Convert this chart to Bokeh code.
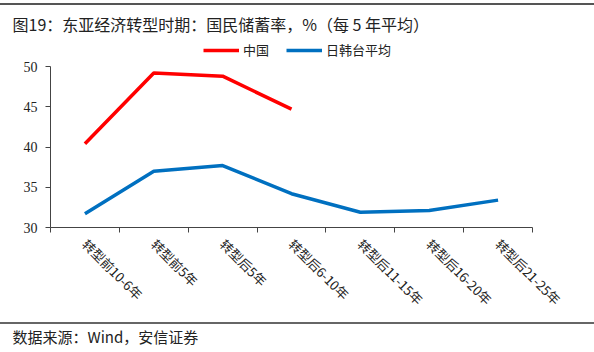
from bokeh.plotting import figure
from bokeh.models import Range1d, FixedTicker, Legend, LegendItem, Title, InlineStyleSheet
from bokeh.embed import file_html
from bokeh.resources import INLINE

categories = ["转型前10-6年", "转型前5年", "转型后5年", "转型后6-10年",
              "转型后11-15年", "转型后16-20年", "转型后21-25年"]
china = [40.4, 49.2, 48.8, 44.7]
jkt_avg = [31.7, 37.0, 37.7, 34.2, 31.9, 32.1, 33.4]
y_ticks = [30, 35, 40, 45, 50]
series_names = ["中国", "日韩台平均"]
title_text = "图19：东亚经济转型时期：国民储蓄率，%（每 5 年平均）"
source_text = "数据来源：Wind，安信证券"

W, H = 594, 352
CJK = "Noto Sans CJK SC"

# frame extends above the 50 line to host the legend; the y axis line stops at 50
y_lo, y_hi = y_ticks[0], y_ticks[-1]
p = figure(width=W, height=H, x_range=Range1d(0, len(categories)),
           y_range=Range1d(y_lo, y_hi + (y_hi - y_lo) * 26 / 161),
           toolbar_location=None, output_backend="svg",
           min_border_left=50, min_border_right=62, min_border_top=40, min_border_bottom=125,
           outline_line_color=None)
p.grid.visible = False

xs_all = [i + 0.5 for i in range(len(categories))]
r1 = p.line(xs_all[:len(china)], china, line_color="#FF0000", line_width=3.5)
r2 = p.line(xs_all, jkt_avg, line_color="#0070C0", line_width=3.5)

p.yaxis.ticker = FixedTicker(ticks=y_ticks)
p.yaxis.bounds = (y_lo, y_hi)
p.yaxis.major_tick_out = 5
p.yaxis.major_tick_in = 0
p.yaxis.minor_tick_line_color = None
p.yaxis.major_label_text_font = "Liberation Serif"
p.yaxis.major_label_text_font_size = "14px"
p.yaxis.major_label_text_color = "#222222"
p.yaxis.major_label_standoff = 8
p.yaxis.axis_line_color = "#444444"
p.yaxis.major_tick_line_color = "#444444"

p.xaxis.ticker = FixedTicker(ticks=xs_all, minor_ticks=list(range(len(categories) + 1)))
p.xaxis.major_label_overrides = {x: c for x, c in zip(xs_all, categories)}
p.xaxis.major_tick_line_color = None
p.xaxis.major_tick_out = 0
p.xaxis.major_tick_in = 0
p.xaxis.minor_tick_out = 5
p.xaxis.minor_tick_in = 0
p.xaxis.minor_tick_line_color = "#444444"
p.xaxis.axis_line_color = "#444444"
p.xaxis.major_label_orientation = -0.785
p.xaxis.major_label_text_font = CJK
p.xaxis.major_label_text_font_size = "13px"
p.xaxis.major_label_text_color = "#222222"
p.xaxis.major_label_standoff = 9

legend = Legend(items=[LegendItem(label=series_names[0], renderers=[r1]),
                       LegendItem(label=series_names[1], renderers=[r2])],
                orientation="horizontal", location=(153, 168),
                glyph_width=36, glyph_height=12, label_standoff=4, spacing=17,
                padding=0, margin=0, border_line_color=None, background_fill_alpha=0,
                label_text_font=CJK, label_text_font_size="13px",
                label_text_color="#222222")
p.add_layout(legend, "center")

p.add_layout(Title(text=title_text, text_font=CJK, text_font_size="16px",
                   text_font_style="normal", text_color="#222222",
                   align="left", offset=-38), "above")
p.add_layout(Title(text=source_text, text_font=CJK, text_font_size="15px",
                   text_font_style="normal", text_color="#222222",
                   align="left", offset=-38), "below")

p.stylesheets = [InlineStyleSheet(css="""
:host { position: relative; }
:host::before { content: ''; position: absolute; left: 0; top: 3px; width: 594px; height: 2px; background: #555555; z-index: 5; }
:host::after { content: ''; position: absolute; left: 0; top: 322px; width: 594px; height: 1.5px; background: #666666; z-index: 5; }
""")]

open("out.html", "w").write(file_html(p, INLINE))
